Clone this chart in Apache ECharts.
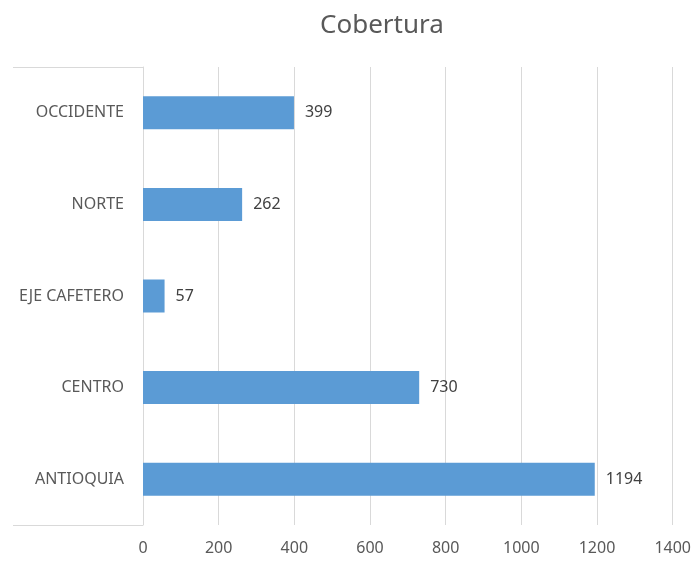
<!DOCTYPE html>
<html>
<head>
<meta charset="utf-8">
<script src="https://cdn.jsdelivr.net/npm/echarts@6/dist/echarts.min.js"></script>
<style>
  html, body { margin: 0; padding: 0; background: #fff; }
  #chart { width: 694px; height: 561px; }
</style>
</head>
<body>
<div id="chart"></div>
<script>
// datos
const regiones = ['ANTIOQUIA', 'CENTRO', 'EJE CAFETERO', 'NORTE', 'OCCIDENTE']
const cobertura = [1194, 730, 57, 262, 399]
const xMax = 1400
const xPaso = 200

const chart = echarts.init(document.getElementById('chart'))
const fuente = '"Noto Sans", "Open Sans", sans-serif'

chart.setOption({
  animation: false,
  title: {
    text: 'Cobertura',
    left: 315,
    top: 8,
    textStyle: { color: '#595959', fontSize: 26, fontWeight: 'normal', fontFamily: fuente }
  },
  grid: { left: 143, right: 21, top: 67, bottom: 36 },
  // marco gris alrededor de las etiquetas del eje
  graphic: [
    { type: 'line', shape: { x1: 13, y1: 67.5, x2: 143, y2: 67.5 }, style: { stroke: '#d9d9d9', lineWidth: 1 } },
    { type: 'line', shape: { x1: 13, y1: 525.5, x2: 143, y2: 525.5 }, style: { stroke: '#d9d9d9', lineWidth: 1 } }
  ],
  xAxis: {
    type: 'value',
    min: 0,
    max: xMax,
    interval: xPaso,
    axisLine: { show: false },
    axisTick: { show: false },
    splitLine: { lineStyle: { color: '#d9d9d9' } },
    axisLabel: { color: '#595959', fontSize: 16, margin: 15, fontFamily: fuente, formatter: v => String(v) }
  },
  yAxis: {
    type: 'category',
    data: regiones,
    axisLine: { lineStyle: { color: '#d9d9d9' } },
    axisTick: { show: false },
    axisLabel: { color: '#595959', fontSize: 16, margin: 19, fontFamily: fuente }
  },
  series: [{
    type: 'bar',
    data: cobertura,
    barWidth: 33,
    itemStyle: { color: '#5b9bd5' },
    label: {
      show: true,
      position: 'right',
      distance: 11,
      color: '#404040',
      fontSize: 16,
      fontFamily: fuente
    }
  }]
})
</script>
</body>
</html>
